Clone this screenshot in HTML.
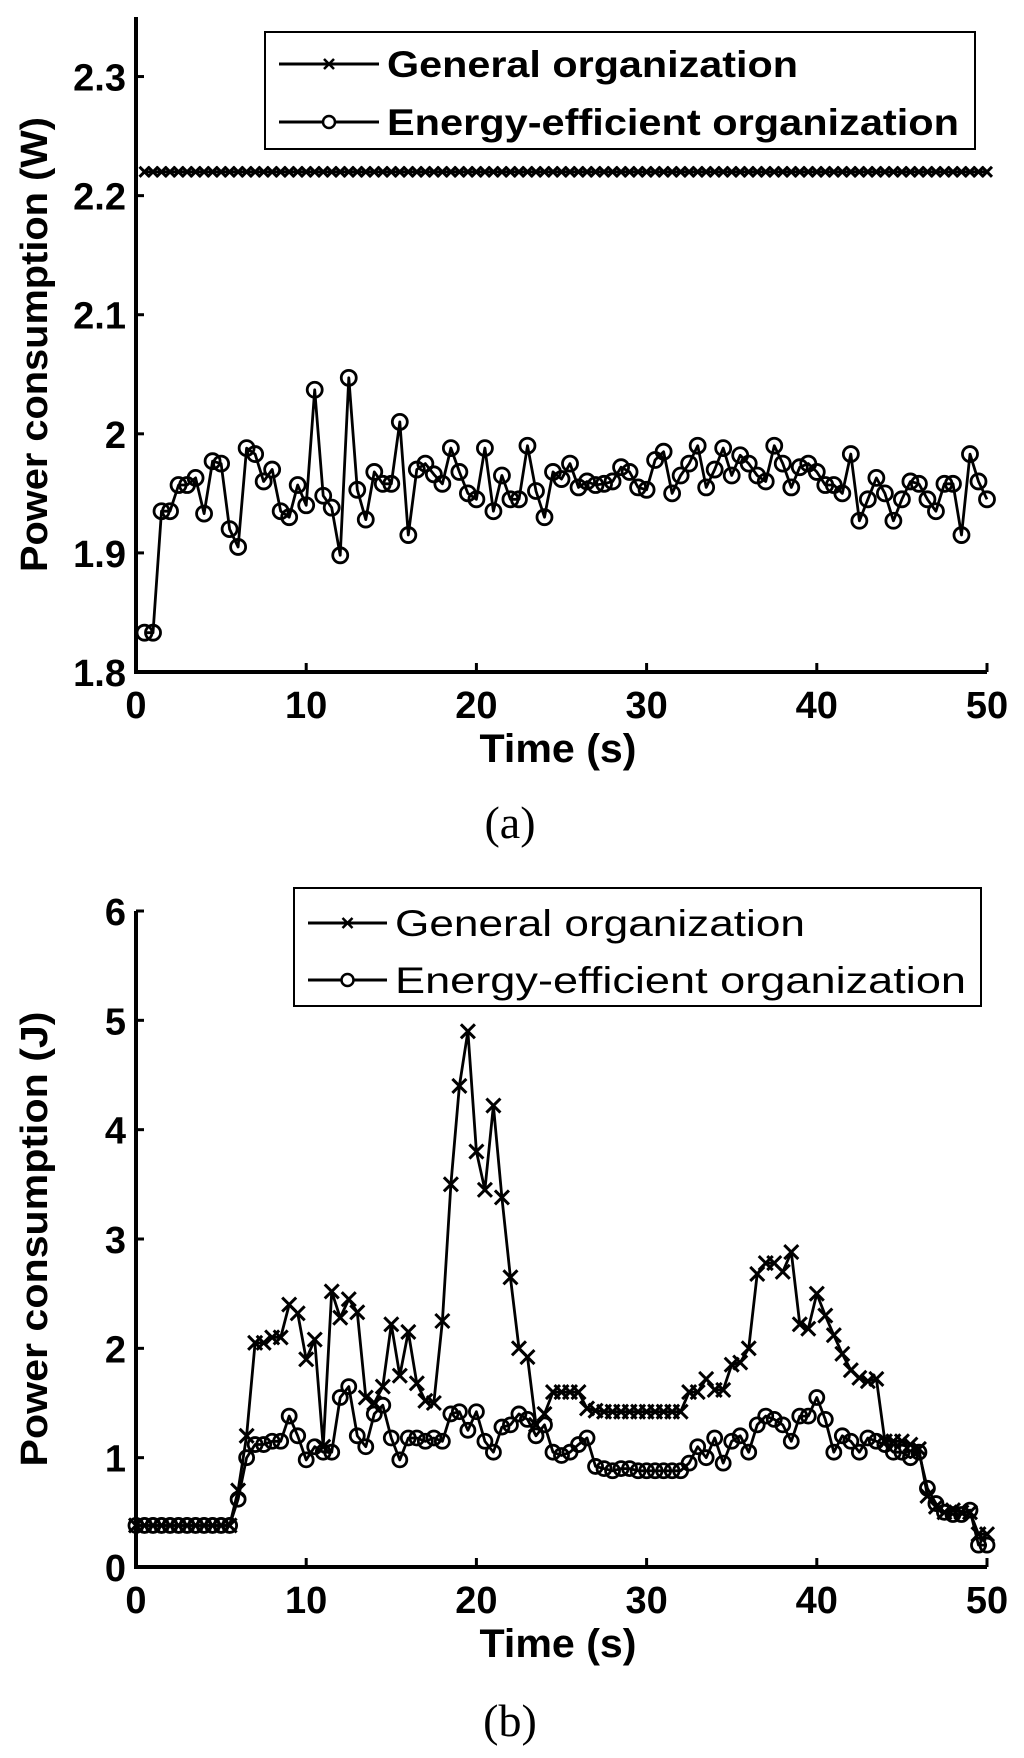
<!DOCTYPE html>
<html><head><meta charset="utf-8"><style>
html,body{margin:0;padding:0;background:#fff;}
svg{display:block;}
text{font-family:"Liberation Sans",Arial,sans-serif;fill:#000;}
</style></head><body>
<svg id="fig" width="1024" height="1758" viewBox="0 0 1024 1758" xmlns="http://www.w3.org/2000/svg"></svg>
<script>
// ---- Chart (a) data ----
const aTimes = [0.5,1,1.5,2,2.5,3,3.5,4,4.5,5,5.5,6,6.5,7,7.5,8,8.5,9,9.5,10,10.5,11,11.5,12,12.5,13,13.5,14,14.5,15,15.5,16,16.5,17,17.5,18,18.5,19,19.5,20,20.5,21,21.5,22,22.5,23,23.5,24,24.5,25,25.5,26,26.5,27,27.5,28,28.5,29,29.5,30,30.5,31,31.5,32,32.5,33,33.5,34,34.5,35,35.5,36,36.5,37,37.5,38,38.5,39,39.5,40,40.5,41,41.5,42,42.5,43,43.5,44,44.5,45,45.5,46,46.5,47,47.5,48,48.5,49,49.5,50];
const aGeneral = [2.22,2.22,2.22,2.22,2.22,2.22,2.22,2.22,2.22,2.22,2.22,2.22,2.22,2.22,2.22,2.22,2.22,2.22,2.22,2.22,2.22,2.22,2.22,2.22,2.22,2.22,2.22,2.22,2.22,2.22,2.22,2.22,2.22,2.22,2.22,2.22,2.22,2.22,2.22,2.22,2.22,2.22,2.22,2.22,2.22,2.22,2.22,2.22,2.22,2.22,2.22,2.22,2.22,2.22,2.22,2.22,2.22,2.22,2.22,2.22,2.22,2.22,2.22,2.22,2.22,2.22,2.22,2.22,2.22,2.22,2.22,2.22,2.22,2.22,2.22,2.22,2.22,2.22,2.22,2.22,2.22,2.22,2.22,2.22,2.22,2.22,2.22,2.22,2.22,2.22,2.22,2.22,2.22,2.22,2.22,2.22,2.22,2.22,2.22,2.22];
const aEfficient = [1.833,1.833,1.935,1.935,1.957,1.957,1.963,1.933,1.977,1.975,1.920,1.905,1.988,1.983,1.960,1.970,1.935,1.930,1.957,1.940,2.037,1.948,1.938,1.898,2.047,1.953,1.928,1.968,1.958,1.958,2.010,1.915,1.970,1.975,1.966,1.958,1.988,1.968,1.950,1.945,1.988,1.935,1.965,1.945,1.945,1.990,1.952,1.930,1.968,1.962,1.975,1.955,1.960,1.957,1.958,1.960,1.972,1.968,1.955,1.953,1.978,1.985,1.950,1.965,1.975,1.990,1.955,1.970,1.988,1.965,1.982,1.975,1.965,1.960,1.990,1.975,1.955,1.972,1.975,1.968,1.957,1.957,1.950,1.983,1.927,1.945,1.963,1.950,1.927,1.945,1.960,1.958,1.945,1.935,1.958,1.958,1.915,1.983,1.960,1.945];
const aYTicks = [1.8,1.9,2,2.1,2.2,2.3];
const aYTickLabels = ["1.8","1.9","2","2.1","2.2","2.3"];
// ---- Chart (b) data ----
const bTimes = [0,0.5,1,1.5,2,2.5,3,3.5,4,4.5,5,5.5,6,6.5,7,7.5,8,8.5,9,9.5,10,10.5,11,11.5,12,12.5,13,13.5,14,14.5,15,15.5,16,16.5,17,17.5,18,18.5,19,19.5,20,20.5,21,21.5,22,22.5,23,23.5,24,24.5,25,25.5,26,26.5,27,27.5,28,28.5,29,29.5,30,30.5,31,31.5,32,32.5,33,33.5,34,34.5,35,35.5,36,36.5,37,37.5,38,38.5,39,39.5,40,40.5,41,41.5,42,42.5,43,43.5,44,44.5,45,45.5,46,46.5,47,47.5,48,48.5,49,49.5,50];
const bGeneral = [0.38,0.38,0.38,0.38,0.38,0.38,0.38,0.38,0.38,0.38,0.38,0.38,0.7,1.2,2.05,2.05,2.1,2.1,2.4,2.32,1.9,2.08,1.1,2.52,2.28,2.45,2.33,1.55,1.5,1.65,2.22,1.75,2.15,1.68,1.52,1.5,2.25,3.5,4.4,4.9,3.8,3.45,4.22,3.38,2.65,2.0,1.92,1.3,1.4,1.6,1.6,1.6,1.6,1.45,1.43,1.42,1.42,1.42,1.42,1.42,1.42,1.42,1.42,1.42,1.42,1.6,1.6,1.72,1.62,1.62,1.85,1.87,2.0,2.68,2.78,2.78,2.7,2.88,2.22,2.18,2.5,2.3,2.12,1.95,1.8,1.73,1.7,1.72,1.15,1.15,1.15,1.12,1.08,0.65,0.55,0.5,0.52,0.5,0.5,0.3,0.3];
const bEfficient = [0.38,0.38,0.38,0.38,0.38,0.38,0.38,0.38,0.38,0.38,0.38,0.38,0.62,1.0,1.12,1.12,1.15,1.15,1.38,1.2,0.98,1.1,1.05,1.05,1.55,1.65,1.2,1.1,1.4,1.48,1.18,0.98,1.18,1.18,1.15,1.18,1.15,1.4,1.42,1.25,1.42,1.15,1.05,1.28,1.3,1.4,1.35,1.2,1.3,1.05,1.02,1.05,1.12,1.18,0.92,0.9,0.88,0.9,0.9,0.88,0.88,0.88,0.88,0.88,0.88,0.95,1.1,1.0,1.18,0.95,1.15,1.2,1.05,1.3,1.38,1.35,1.3,1.15,1.38,1.38,1.55,1.35,1.05,1.2,1.15,1.05,1.18,1.15,1.12,1.05,1.05,1.0,1.05,0.72,0.58,0.5,0.48,0.48,0.52,0.2,0.2];
const bYTicks = [0,1,2,3,4,5,6];
const bYTickLabels = ["0","1","2","3","4","5","6"];
const xTicks = [0,10,20,30,40,50];
const xTickLabels = ["0","10","20","30","40","50"];

const NS = "http://www.w3.org/2000/svg";
const svg = document.getElementById('fig');
function mk(tag, attrs, parent, txt){
  const e = document.createElementNS(NS, tag);
  for (const k in attrs) e.setAttribute(k, attrs[k]);
  if (txt !== undefined) e.textContent = txt;
  (parent || svg).appendChild(e);
  return e;
}
const X0 = 136, X1 = 987;
function xs(t){ return X0 + (t/50)*(X1-X0); }

function drawChart(cfg){
  const g = mk('g', {});
  
  
  const ys = v => cfg.yb + (v-cfg.ymin)/(cfg.ymax-cfg.ymin)*(cfg.yt-cfg.yb);
  cfg.series.forEach(s => {
    const sg = mk('g', {}, g);
    
    
    const pts = s.vals.map((v,i)=> xs(s.times[i]).toFixed(1)+','+ys(v).toFixed(1)).join(' ');
    const pl = mk('polyline', {points:pts, fill:'none', stroke:'#000', 'stroke-width':2.8, 'stroke-linejoin':'round'}, sg);
    
    
    s.vals.forEach((v,i)=>{
      const x = xs(s.times[i]), y = ys(v);
      if (s.marker === 'o') {
        const c = mk('circle', {cx:x, cy:y, r:cfg.mr, fill:'none', stroke:'#000', 'stroke-width':2.8}, sg);
        
        
      } else {
        const d = cfg.xr;
        const p = mk('path', {d:`M${x-d},${y-d}L${x+d},${y+d}M${x-d},${y+d}L${x+d},${y-d}`, stroke:'#000', 'stroke-width':3}, sg);
        
        
      }
    });
  });
  const ax = mk('path', {d:`M${X0},${cfg.yt}L${X0},${cfg.yb}L${X1},${cfg.yb}`, fill:'none', stroke:'#000', 'stroke-width':4}, g);
  
  
  cfg.yticks.forEach((v,i)=>{
    const y = ys(v);
    const t = mk('line', {x1:X0, x2:X0+8, y1:y, y2:y, stroke:'#000', 'stroke-width':3}, g);
    
    
    const l = mk('text', {x:X0-10, y:y+14, 'text-anchor':'end', 'font-size':38, 'font-weight':'bold'}, g, cfg.ylabels[i]);
    
    
  });
  xTicks.forEach((v,i)=>{
    const x = xs(v);
    const t = mk('line', {x1:x, x2:x, y1:cfg.yb, y2:cfg.yb-9, stroke:'#000', 'stroke-width':3}, g);
    
    
    const l = mk('text', {x:x, y:cfg.yb+46, 'text-anchor':'middle', 'font-size':38, 'font-weight':'bold'}, g, xTickLabels[i]);
    
    
  });
  const xt = mk('text', {x:558, y:cfg.yb+90, 'text-anchor':'middle', 'font-size':40, 'font-weight':'bold', textLength:157, lengthAdjust:'spacingAndGlyphs'}, g, 'Time (s)');
  
  
  const cy = (cfg.yt+cfg.yb)/2;
  const yt = mk('text', {x:0, y:0, 'text-anchor':'middle', 'font-size':38, 'font-weight':'bold', textLength:455, lengthAdjust:'spacingAndGlyphs', transform:`translate(47,${cy}) rotate(-90)`}, g, cfg.ytitle);
  
  
  const L = cfg.legend;
  const lg = mk('g', {}, g);
  
  
  mk('rect', {x:L.x, y:L.y, width:L.w, height:L.h, fill:'#fff', stroke:'#000', 'stroke-width':2}, lg);
  L.rows.forEach((r,i)=>{
    const ry = L.rowY[i];
    const eg = mk('g', {}, lg);
    
    
    const lx1 = L.x+14, lx2 = L.x+L.tx-8;
    mk('line', {x1:lx1, x2:lx2, y1:ry, y2:ry, stroke:'#000', 'stroke-width':3}, eg);
    const mx = (lx1+lx2)/2;
    if (r.marker === 'o') mk('circle', {cx:mx, cy:ry, r:6, fill:'#fff', stroke:'#000', 'stroke-width':2.5}, eg);
    else mk('path', {d:`M${mx-5},${ry-5}L${mx+5},${ry+5}M${mx-5},${ry+5}L${mx+5},${ry-5}`, stroke:'#000', 'stroke-width':2.5}, eg);
    mk('text', {x:L.x+L.tx, y:ry+13, 'font-size':L.fs, 'font-weight':L.fw, textLength:r.len, lengthAdjust:'spacingAndGlyphs'}, eg, r.label);
  });
  const cap = mk('text', {x:510, y:cfg.capY, 'text-anchor':'middle', 'font-size':46, style:'font-family:"Liberation Serif",serif'}, g, cfg.caption);
  
  
}

drawChart({
  name:'chart-a-power', yt:17, yb:672, ymin:1.8, ymax:2.35, mr:7.5, xr:5,
  yticks:aYTicks, ylabels:aYTickLabels, ytitle:'Power consumption (W)',
  series:[
    {name:'series-general', times:aTimes, vals:aGeneral, marker:'x'},
    {name:'series-energy-efficient', times:aTimes, vals:aEfficient, marker:'o'}
  ],
  legend:{x:265, y:32, w:710, h:117, tx:122, fs:37, fw:'bold', rowY:[64,122],
    rows:[{label:'General organization', marker:'x', len:411},{label:'Energy-efficient organization', marker:'o', len:572}]},
  caption:'(a)', capY:838
});
drawChart({
  name:'chart-b-energy', yt:911, yb:1567, ymin:0, ymax:6, mr:7, xr:7,
  yticks:bYTicks, ylabels:bYTickLabels, ytitle:'Power consumption (J)',
  series:[
    {name:'series-general', times:bTimes, vals:bGeneral, marker:'x'},
    {name:'series-energy-efficient', times:bTimes, vals:bEfficient, marker:'o'}
  ],
  legend:{x:294, y:888, w:687, h:118, tx:101, fs:37, fw:'normal', rowY:[923,980],
    rows:[{label:'General organization', marker:'x', len:410},{label:'Energy-efficient organization', marker:'o', len:571}]},
  caption:'(b)', capY:1736
});
</script>
</body></html>
